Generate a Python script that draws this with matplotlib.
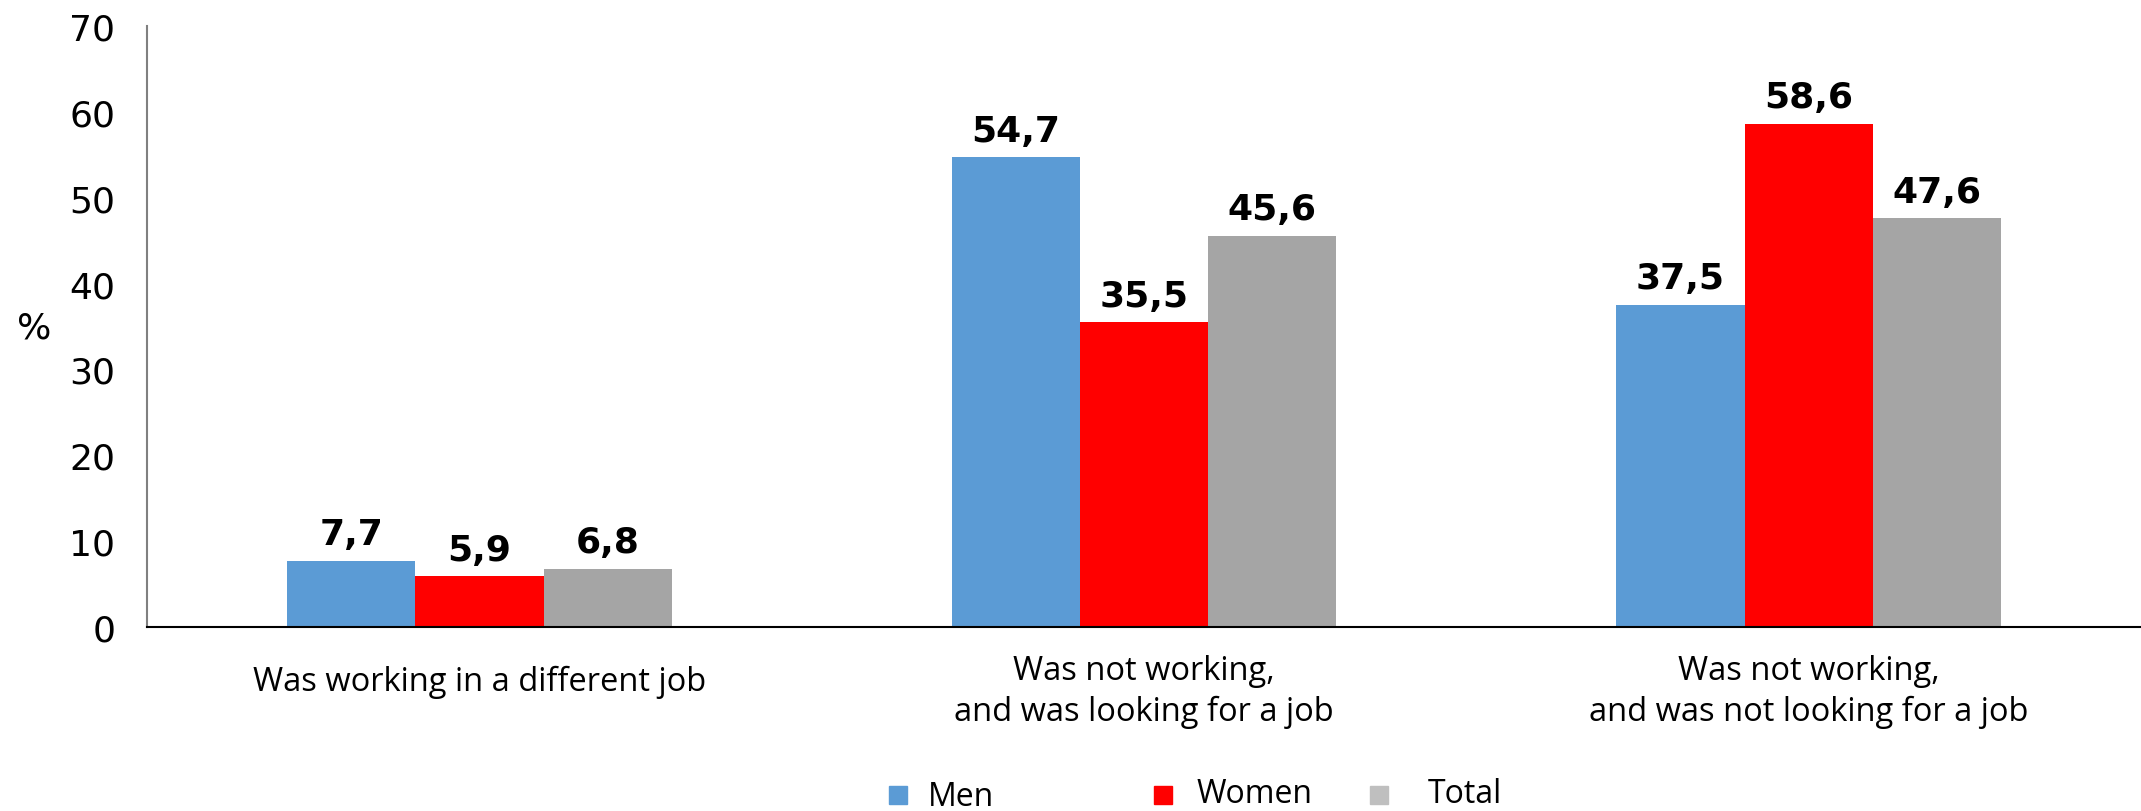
import matplotlib.pyplot as plt
from matplotlib.patches import Rectangle

# ── Data ──────────────────────────────────────────────────────────────────────
categories = [
    "Was working in a different job",
    "Was not working,\nand was looking for a job",
    "Was not working,\nand was not looking for a job",
]
series = ["Men", "Women", "Total"]
men = [7.7, 54.7, 37.5]
women = [5.9, 35.5, 58.6]
total = [6.8, 45.6, 47.6]

colors = ["#5B9BD5", "#FF0000", "#A5A5A5"]
legend_colors = ["#5B9BD5", "#FF0000", "#BFBFBF"]
label_font = "Open Sans"

# ── Figure ────────────────────────────────────────────────────────────────────
fig = plt.figure(figsize=(21.41, 8.12), dpi=100)
ax = fig.add_axes([0.0687, 0.2266, 0.9313, 0.7401])

width = 0.193
x = list(range(len(categories)))
for k, vals in enumerate([men, women, total]):
    pos = [xi + (k - 1) * width for xi in x]
    bars = ax.bar(pos, vals, width=width, color=colors[k], zorder=2)
    for b, v in zip(bars, vals):
        ax.annotate(f"{v:.1f}".replace(".", ","),
                    (b.get_x() + b.get_width() / 2, v),
                    xytext=(0, 12), textcoords="offset points",
                    ha="center", va="baseline",
                    fontsize=26, fontweight="bold", color="black")

ax.set_xlim(-0.5, 2.5)
ax.set_ylim(0, 70)
ax.set_yticks(range(0, 71, 10))
ax.tick_params(axis="y", length=0, pad=23, labelsize=26)
ax.set_xticks([])

for s in ["top", "right"]:
    ax.spines[s].set_visible(False)
ax.spines["left"].set_color("#808080")
ax.spines["left"].set_linewidth(1.5)
ax.spines["bottom"].set_color("black")
ax.spines["bottom"].set_linewidth(1.5)

# category labels under each group
label_y = [-0.09, -0.107, -0.107]
for xi, cat, yy in zip(x, categories, label_y):
    ax.text(xi, yy, cat, transform=ax.get_xaxis_transform(),
            ha="center", va="center", fontsize=23.5, family=label_font,
            linespacing=1.3)

fig.text(0.0159, 0.595, "%", fontsize=26, ha="center", va="center")

# legend row
sq_x = [889, 1154, 1370]
txt_x = [928, 1197, 1428]
txt_dy = [-3, 0, 0]
sq = 18
for name, c, sx, tx, dy in zip(series, legend_colors, sq_x, txt_x, txt_dy):
    fig.add_artist(Rectangle((sx / 2141, (812 - 805) / 812), sq / 2141, sq / 812,
                             transform=fig.transFigure, color=c))
    fig.text(tx / 2141, (812 - 795 + dy) / 812, name, fontsize=23,
             family=label_font, ha="left", va="center")

fig.savefig("out.png", dpi=100, facecolor="white")
